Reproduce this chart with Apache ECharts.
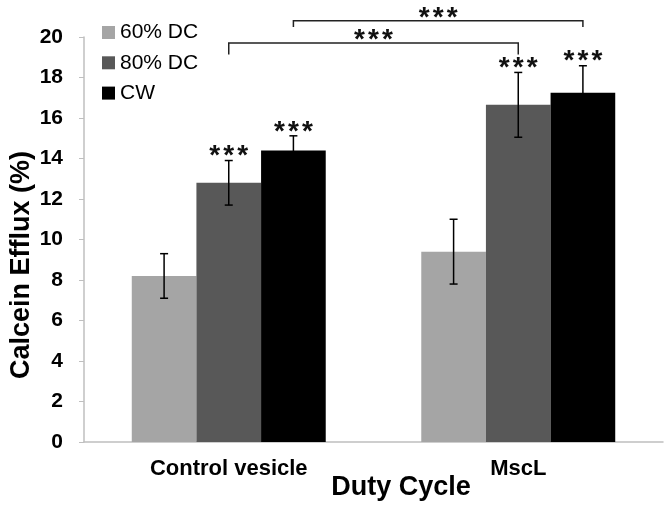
<!DOCTYPE html>
<html>
<head>
<meta charset="utf-8">
<script src="https://cdn.jsdelivr.net/npm/echarts/dist/echarts.min.js"></script>
<style>
  html, body { margin: 0; padding: 0; background: #fff; }
  #chart { width: 666px; height: 505px; }
</style>
</head>
<body>
<div id="chart"></div>
<script>
// values
const categories = ['Control vesicle', 'MscL']
const seriesNames = ['60% DC', '80% DC', 'CW']
const dc60 = [8.2, 9.4]
const dc60Err = [1.1, 1.6]
const dc80 = [12.8, 16.65]
const dc80Err = [1.1, 1.6]
const cw = [14.4, 17.25]
const cwErr = [0.72, 1.33]
// *** markers above the bars (per series, per category)
const dc60Stars = [0, 0]
const dc80Stars = [1, 1]
const cwStars = [1, 1]
// comparison brackets: series index, line level, drop level
const bracketSeries = [1, 2]
const bracketLevel = [19.7, 20.8]
const bracketDrop = [19.13, 20.5]
const yTicks = [0, 20, 2]

const colors = ['#a5a5a5', '#585858', '#000000']
const GAP = 0.33
const FONT = '"Liberation Sans", Arial, sans-serif'

let chart = echarts.init(document.getElementById('chart'))

const values = [dc60, dc80, cw]
const errs = [dc60Err, dc80Err, cwErr]
const stars = [dc60Stars, dc80Stars, cwStars]

let errData = []
values.forEach((vals, s) => {
  vals.forEach((v, c) => errData.push([c, v, errs[s][c], s, stars[s][c]]))
})
let bracketData = bracketSeries.map((s, i) => [0, bracketLevel[i], 1, s, bracketDrop[i]])

function offsetX(api, s) {
  let catW = api.size([1, 0])[0]
  let bw = catW * (1 - GAP) / 3
  return (s - 1) * bw
}

// three separate asterisks, spaced a bit wider than the font does it
function starGroup(x, y) {
  return {
    type: 'group',
    children: [-14, 0, 14].map(dx => ({
      type: 'text',
      style: {
        text: '*', x: x + dx, y: y, align: 'center', verticalAlign: 'middle',
        font: 'bold 28px ' + FONT, fill: '#111'
      }
    }))
  }
}

function renderErr(params, api) {
  let c = api.value(0), v = api.value(1), e = api.value(2), s = api.value(3), st = api.value(4)
  let top = api.coord([c, v + e])
  let bot = api.coord([c, v - e])
  let x = top[0] + offsetX(api, s)
  let ls = { stroke: '#000', lineWidth: 1.5 }
  let children = [
    { type: 'line', shape: { x1: x, y1: top[1], x2: x, y2: bot[1] }, style: ls },
    { type: 'line', shape: { x1: x - 4, y1: top[1], x2: x + 4, y2: top[1] }, style: ls },
    { type: 'line', shape: { x1: x - 4, y1: bot[1], x2: x + 4, y2: bot[1] }, style: ls }
  ]
  if (st) children.push(starGroup(x, top[1] - 4))
  return { type: 'group', children: children }
}

function renderBracket(params, api) {
  let c0 = api.value(0), lvl = api.value(1), c1 = api.value(2), s = api.value(3), drop = api.value(4)
  let a = api.coord([c0, lvl]), b = api.coord([c1, lvl])
  let d = api.coord([c0, drop])[1]
  let x0 = a[0] + offsetX(api, s), x1 = b[0] + offsetX(api, s)
  return {
    type: 'group',
    children: [
      {
        type: 'polyline',
        shape: { points: [[x0, d], [x0, a[1]], [x1, a[1]], [x1, d]] },
        style: { stroke: '#222', lineWidth: 1.5, fill: null }
      },
      starGroup((x0 + x1) / 2, a[1] - 3)
    ]
  }
}

let option = {
  animation: false,
  backgroundColor: '#fff',
  grid: { left: 84, right: 3, top: 37, bottom: 63, containLabel: false },
  legend: {
    orient: 'vertical',
    left: 97,
    top: 17,
    itemWidth: 13,
    itemHeight: 13,
    itemGap: 9.3,
    icon: 'rect',
    data: seriesNames,
    textStyle: { fontFamily: FONT, fontSize: 21, color: '#000', lineHeight: 21 }
  },
  xAxis: {
    type: 'category',
    data: categories,
    axisLine: { lineStyle: { color: '#bfbfbf', width: 1.5 } },
    axisTick: { show: false },
    axisLabel: { fontFamily: FONT, fontWeight: 'bold', fontSize: 22, color: '#000', margin: 16 }
  },
  yAxis: {
    type: 'value',
    min: yTicks[0], max: yTicks[1], interval: yTicks[2],
    axisLine: { show: true, lineStyle: { color: '#bfbfbf', width: 1.5 } },
    axisTick: { show: true, length: 5, lineStyle: { color: '#bfbfbf' } },
    splitLine: { show: false },
    axisLabel: { fontFamily: FONT, fontWeight: 'bold', fontSize: 21, color: '#000', margin: 21 }
  },
  graphic: [
    {
      type: 'text', x: 22, y: 265, rotation: Math.PI / 2,
      style: { text: 'Calcein Efflux (%)', font: 'bold 27px ' + FONT, fill: '#000', align: 'center', verticalAlign: 'middle' }
    },
    {
      type: 'text', x: 401, y: 488,
      style: { text: 'Duty Cycle', font: 'bold 27px ' + FONT, fill: '#000', align: 'center', verticalAlign: 'middle' }
    }
  ],
  series: [
    ...values.map((vals, s) => ({
      name: seriesNames[s],
      type: 'bar',
      data: vals,
      barGap: '0%',
      barCategoryGap: (GAP * 100) + '%',
      itemStyle: { color: colors[s] }
    })),
    { type: 'custom', renderItem: renderErr, data: errData, z: 5, silent: true },
    { type: 'custom', renderItem: renderBracket, data: bracketData, z: 5, silent: true, clip: false }
  ]
}

chart.setOption(option)
</script>
</body>
</html>
